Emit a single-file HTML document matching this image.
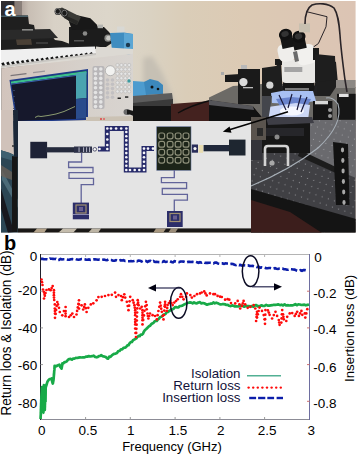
<!DOCTYPE html>
<html><head><meta charset="utf-8"><style>
html,body{margin:0;padding:0;background:#fff;width:358px;height:456px;overflow:hidden}
svg{display:block}
</style></head><body>
<svg width="358" height="456" viewBox="0 0 358 456">
<rect width="358" height="456" fill="#fff"/>
<defs>
<clipPath id="pc"><rect x="1" y="1" width="354.6" height="231.4"/></clipPath>
<linearGradient id="wall" x1="0" y1="0" x2="358" y2="0" gradientUnits="userSpaceOnUse"><stop offset="0" stop-color="#7a7070"/><stop offset="0.05" stop-color="#a89a94"/><stop offset="0.08" stop-color="#c8beb4"/><stop offset="0.15" stop-color="#d8d1c6"/><stop offset="0.3" stop-color="#dcd6ca"/><stop offset="0.42" stop-color="#dad2c2"/><stop offset="0.52" stop-color="#dacdb8"/><stop offset="0.68" stop-color="#dccab4"/><stop offset="0.88" stop-color="#dcc6b4"/><stop offset="1" stop-color="#dcc4b4"/></linearGradient>
<linearGradient id="face" x1="0" y1="0" x2="133" y2="0" gradientUnits="userSpaceOnUse"><stop offset="0" stop-color="#d2c4bc"/><stop offset="0.6" stop-color="#d6d0ca"/><stop offset="1" stop-color="#d8d4d0"/></linearGradient>
<filter id="blur2" x="-20%" y="-20%" width="140%" height="140%"><feGaussianBlur stdDeviation="2.5"/></filter>
<linearGradient id="shadow" x1="0" y1="0" x2="1" y2="0"><stop offset="0" stop-color="#d2c8b8" stop-opacity="0"/><stop offset="0.5" stop-color="#b4ab9e"/><stop offset="1" stop-color="#cfc4b2" stop-opacity="0"/></linearGradient>
<radialGradient id="glow" cx="0.5" cy="0.5" r="0.5"><stop offset="0" stop-color="#f4f8ff"/><stop offset="0.45" stop-color="#a8b8f0" stop-opacity="0.9"/><stop offset="1" stop-color="#3a4890" stop-opacity="0"/></radialGradient>
<pattern id="holes" width="6.5" height="6.5" patternUnits="userSpaceOnUse" patternTransform="rotate(18)"><rect width="6.5" height="6.5" fill="#404044"/><circle cx="3.2" cy="3.2" r="0.6" fill="#8c8c90"/></pattern>
<pattern id="holes2" width="6.5" height="6.5" patternUnits="userSpaceOnUse" patternTransform="rotate(18)"><rect width="6.5" height="6.5" fill="#6a6a6e"/><circle cx="3.2" cy="3.2" r="0.6" fill="#9a9a9e"/></pattern>
</defs>
<g clip-path="url(#pc)">
<rect x="0" y="0" width="358" height="234" fill="url(#wall)"/>
<polygon points="143,58 152,56 162,72 172,95 178,112 150,112 143,90" fill="#c6c0b4" filter="url(#blur2)"/>
<rect x="0" y="0" width="15" height="17" fill="#2e2c30"/>
<rect x="14" y="0" width="8" height="17" fill="#7a706c" opacity="0.7"/>
<polygon points="0,15.5 28,15.5 29,24 34,25 35,30 42,31 44,35 52,36 55,40 62,41 70,44 78,46 96,46 96,49 60,48 0,51" fill="#1f1f1f"/>
<rect x="0" y="15.5" width="28" height="1.5" fill="#4a6068"/>
<polygon points="0,30 50,29 58,38 0,40" fill="#2a2a2a"/>
<polygon points="16,39.5 31,39 32,44.7 17,45" fill="#4a4036"/>
<rect x="22" y="29" width="11" height="1.6" fill="#8a8a88"/>
<rect x="36" y="42" width="12" height="2" fill="#3a3a3a"/>
<polygon points="69,27 104,27 109,32 112,36 112,43 106,47 69,47" fill="#1c1c1c"/>
<polygon points="70,16 75,14.7 90.4,18.3 96.7,24.6 99,29 72,30 69,22" fill="#181818"/>
<polygon points="56,10 62,7.5 81,17 77,25 70,22" fill="#3a3a36"/>
<polygon points="62,14 78,21 77,25 64,18" fill="#262624"/>
<ellipse cx="58" cy="11.5" rx="3.4" ry="3.6" fill="#1a1a1a"/><ellipse cx="57.8" cy="11.3" rx="2.6" ry="2.8" fill="none" stroke="#9a9a9a" stroke-width="0.8"/>
<ellipse cx="64.6" cy="13.3" rx="3.6" ry="3.8" fill="#1a1a1a"/><ellipse cx="64.4" cy="13.1" rx="2.7" ry="2.9" fill="none" stroke="#8a8a8a" stroke-width="0.8"/>
<rect x="97.6" y="24.6" width="5.4" height="3.6" fill="#b4b4b0"/>
<circle cx="85" cy="33.5" r="2.3" fill="#8a8a88"/>
<ellipse cx="108" cy="38.2" rx="3.6" ry="3.6" fill="#8a8a86"/><ellipse cx="108.4" cy="38.2" rx="2.2" ry="2.4" fill="#c8c8c4"/>
<rect x="74" y="40" width="10" height="1.5" fill="#555"/>
<rect x="117" y="26.5" width="7.5" height="7" fill="#d8d8d4"/>
<polygon points="110,33 124,32.5 133,34 133,56 112,50" fill="#3f8dc0"/>
<polygon points="124,33 133,34 133,56 124,52" fill="#5ba6d4"/>
<circle cx="128" cy="45" r="2.2" fill="#1d3a50"/>
<polygon points="0,50 60,47.5 95,46.5 96,53.5 2,67 0,67" fill="#efefef"/>
<rect x="2.0" y="62.5" width="2.6" height="4.2" fill="#141414" transform="rotate(-25 3.3 64.5)"/>
<rect x="6.9" y="61.9" width="2.6" height="4.2" fill="#141414" transform="rotate(-25 8.2 63.9)"/>
<rect x="11.8" y="61.4" width="2.6" height="4.2" fill="#141414" transform="rotate(-25 13.1 63.4)"/>
<rect x="16.7" y="60.8" width="2.6" height="4.2" fill="#141414" transform="rotate(-25 18.0 62.8)"/>
<rect x="21.6" y="60.3" width="2.6" height="4.2" fill="#141414" transform="rotate(-25 22.9 62.3)"/>
<rect x="26.5" y="59.7" width="2.6" height="4.2" fill="#141414" transform="rotate(-25 27.8 61.7)"/>
<rect x="31.4" y="59.1" width="2.6" height="4.2" fill="#141414" transform="rotate(-25 32.7 61.1)"/>
<rect x="36.3" y="58.6" width="2.6" height="4.2" fill="#141414" transform="rotate(-25 37.6 60.6)"/>
<rect x="41.2" y="58.0" width="2.6" height="4.2" fill="#141414" transform="rotate(-25 42.5 60.0)"/>
<rect x="46.1" y="57.4" width="2.6" height="4.2" fill="#141414" transform="rotate(-25 47.4 59.4)"/>
<rect x="51.0" y="56.9" width="2.6" height="4.2" fill="#141414" transform="rotate(-25 52.3 58.9)"/>
<rect x="55.9" y="56.3" width="2.6" height="4.2" fill="#141414" transform="rotate(-25 57.2 58.3)"/>
<rect x="60.8" y="55.8" width="2.6" height="4.2" fill="#141414" transform="rotate(-25 62.1 57.8)"/>
<rect x="65.7" y="55.2" width="2.6" height="4.2" fill="#141414" transform="rotate(-25 67.0 57.2)"/>
<rect x="70.6" y="54.6" width="2.6" height="4.2" fill="#141414" transform="rotate(-25 71.9 56.6)"/>
<rect x="75.5" y="54.1" width="2.6" height="4.2" fill="#141414" transform="rotate(-25 76.8 56.1)"/>
<rect x="80.4" y="53.5" width="2.6" height="4.2" fill="#141414" transform="rotate(-25 81.7 55.5)"/>
<rect x="85.3" y="52.9" width="2.6" height="4.2" fill="#141414" transform="rotate(-25 86.6 54.9)"/>
<rect x="90.2" y="52.4" width="2.6" height="4.2" fill="#141414" transform="rotate(-25 91.5 54.4)"/>
<polygon points="0,67 96,53.5 96,46.5 100,47 133,49 133,54 70,60.7 0,68.5" fill="#dcd9d3"/>
<polygon points="0,66 96,53 96,55 0,68" fill="#c8c6c2"/>
<polygon points="0,68.5 70,60.7 133,53.7 133,117 0,121" fill="url(#face)"/>
<polygon points="0,68.5 2,68.3 2,150 0,150" fill="#b8b0aa"/>
<rect x="10.5" y="75" width="16" height="1.2" fill="#7a7478" transform="rotate(-7 10.5 75)"/>
<rect x="33" y="72" width="12" height="1.2" fill="#9a969a" transform="rotate(-7 33 72)"/>
<polygon points="9.5,80 88,69 88,120 16,122" fill="#1e3a8a"/>
<polygon points="11,81.5 86.5,71 86.5,118.5 17.5,121" fill="#16182c"/>
<polygon points="11,81.5 86.5,71 86.5,73.4 11,83.8" fill="#3cc08e"/><polygon points="11,83.8 86.5,73.4 86.5,74.4 11,84.8" fill="#3a62b0"/>
<polygon points="76,73.5 86.5,72 86.5,98 76,99" fill="#4aa4b0"/>
<polygon points="76,99 86.5,98 86.5,118.5 76,119" fill="#2a4c8c"/>
<polyline points="35,117.5 38,116 41,116.5 48,115.5 56,114 64,111.5 75,106.5" fill="none" stroke="#8c9c70" stroke-width="1"/>
<rect x="13" y="90" width="2" height="0.8" fill="#3a4a6a"/>
<rect x="13" y="96" width="2" height="0.8" fill="#3a4a6a"/>
<rect x="13" y="102" width="2" height="0.8" fill="#3a4a6a"/>
<rect x="13" y="108" width="2" height="0.8" fill="#3a4a6a"/>
<rect x="13" y="114" width="2" height="0.8" fill="#3a4a6a"/>
<rect x="92.5" y="66" width="12" height="43" rx="2" fill="#b8b6b8"/>
<circle cx="95.5" cy="69.0" r="1.8" fill="#e4e4e4"/>
<circle cx="100.8" cy="69.0" r="1.8" fill="#e4e4e4"/>
<circle cx="95.5" cy="73.7" r="1.8" fill="#e4e4e4"/>
<circle cx="100.8" cy="73.7" r="1.8" fill="#e4e4e4"/>
<circle cx="95.5" cy="78.4" r="1.8" fill="#e4e4e4"/>
<circle cx="100.8" cy="78.4" r="1.8" fill="#e4e4e4"/>
<circle cx="95.5" cy="83.1" r="1.8" fill="#e4e4e4"/>
<circle cx="100.8" cy="83.1" r="1.8" fill="#e4e4e4"/>
<circle cx="95.5" cy="87.8" r="1.8" fill="#e4e4e4"/>
<circle cx="100.8" cy="87.8" r="1.8" fill="#e4e4e4"/>
<circle cx="95.5" cy="92.5" r="1.8" fill="#e4e4e4"/>
<circle cx="100.8" cy="92.5" r="1.8" fill="#e4e4e4"/>
<circle cx="95.5" cy="97.2" r="1.8" fill="#e4e4e4"/>
<circle cx="100.8" cy="97.2" r="1.8" fill="#e4e4e4"/>
<circle cx="95.5" cy="101.9" r="1.8" fill="#e4e4e4"/>
<circle cx="100.8" cy="101.9" r="1.8" fill="#e4e4e4"/>
<circle cx="95.5" cy="106.6" r="1.8" fill="#e4e4e4"/>
<circle cx="100.8" cy="106.6" r="1.8" fill="#e4e4e4"/>
<circle cx="107.5" cy="80.0" r="1.8" fill="#c2c0c2"/>
<circle cx="112.5" cy="80.0" r="1.8" fill="#c2c0c2"/>
<circle cx="107.5" cy="84.3" r="1.8" fill="#c2c0c2"/>
<circle cx="112.5" cy="84.3" r="1.8" fill="#c2c0c2"/>
<circle cx="107.5" cy="88.6" r="1.8" fill="#c2c0c2"/>
<circle cx="112.5" cy="88.6" r="1.8" fill="#c2c0c2"/>
<circle cx="107.5" cy="92.9" r="1.8" fill="#c2c0c2"/>
<circle cx="112.5" cy="92.9" r="1.8" fill="#c2c0c2"/>
<circle cx="107.5" cy="97.2" r="1.8" fill="#c2c0c2"/>
<circle cx="112.5" cy="97.2" r="1.8" fill="#c2c0c2"/>
<circle cx="117.5" cy="65.0" r="1.6" fill="#e6e6e6" stroke="#b0b0b0" stroke-width="0.5"/>
<circle cx="121.4" cy="65.0" r="1.6" fill="#e6e6e6" stroke="#b0b0b0" stroke-width="0.5"/>
<circle cx="125.3" cy="65.0" r="1.6" fill="#e6e6e6" stroke="#b0b0b0" stroke-width="0.5"/>
<circle cx="129.2" cy="65.0" r="1.6" fill="#e6e6e6" stroke="#b0b0b0" stroke-width="0.5"/>
<circle cx="117.5" cy="69.4" r="1.6" fill="#e6e6e6" stroke="#b0b0b0" stroke-width="0.5"/>
<circle cx="121.4" cy="69.4" r="1.6" fill="#e6e6e6" stroke="#b0b0b0" stroke-width="0.5"/>
<circle cx="125.3" cy="69.4" r="1.6" fill="#e6e6e6" stroke="#b0b0b0" stroke-width="0.5"/>
<circle cx="129.2" cy="69.4" r="1.6" fill="#e6e6e6" stroke="#b0b0b0" stroke-width="0.5"/>
<circle cx="117.5" cy="73.8" r="1.6" fill="#e6e6e6" stroke="#b0b0b0" stroke-width="0.5"/>
<circle cx="121.4" cy="73.8" r="1.6" fill="#e6e6e6" stroke="#b0b0b0" stroke-width="0.5"/>
<circle cx="125.3" cy="73.8" r="1.6" fill="#e6e6e6" stroke="#b0b0b0" stroke-width="0.5"/>
<circle cx="129.2" cy="73.8" r="1.6" fill="#e6e6e6" stroke="#b0b0b0" stroke-width="0.5"/>
<circle cx="117.5" cy="78.2" r="1.6" fill="#e6e6e6" stroke="#b0b0b0" stroke-width="0.5"/>
<circle cx="121.4" cy="78.2" r="1.6" fill="#e6e6e6" stroke="#b0b0b0" stroke-width="0.5"/>
<circle cx="125.3" cy="78.2" r="1.6" fill="#e6e6e6" stroke="#b0b0b0" stroke-width="0.5"/>
<circle cx="129.2" cy="78.2" r="1.6" fill="#e6e6e6" stroke="#b0b0b0" stroke-width="0.5"/>
<circle cx="117.5" cy="82.6" r="1.6" fill="#e6e6e6" stroke="#b0b0b0" stroke-width="0.5"/>
<circle cx="121.4" cy="82.6" r="1.6" fill="#e6e6e6" stroke="#b0b0b0" stroke-width="0.5"/>
<circle cx="125.3" cy="82.6" r="1.6" fill="#e6e6e6" stroke="#b0b0b0" stroke-width="0.5"/>
<circle cx="129.2" cy="82.6" r="1.6" fill="#e6e6e6" stroke="#b0b0b0" stroke-width="0.5"/>
<circle cx="117.5" cy="87.0" r="1.6" fill="#e6e6e6" stroke="#b0b0b0" stroke-width="0.5"/>
<circle cx="121.4" cy="87.0" r="1.6" fill="#e6e6e6" stroke="#b0b0b0" stroke-width="0.5"/>
<circle cx="125.3" cy="87.0" r="1.6" fill="#e6e6e6" stroke="#b0b0b0" stroke-width="0.5"/>
<circle cx="129.2" cy="87.0" r="1.6" fill="#e6e6e6" stroke="#b0b0b0" stroke-width="0.5"/>
<circle cx="117.5" cy="91.4" r="1.6" fill="#e6e6e6" stroke="#b0b0b0" stroke-width="0.5"/>
<circle cx="121.4" cy="91.4" r="1.6" fill="#e6e6e6" stroke="#b0b0b0" stroke-width="0.5"/>
<circle cx="125.3" cy="91.4" r="1.6" fill="#e6e6e6" stroke="#b0b0b0" stroke-width="0.5"/>
<circle cx="129.2" cy="91.4" r="1.6" fill="#e6e6e6" stroke="#b0b0b0" stroke-width="0.5"/>
<circle cx="129" cy="81" r="1.7" fill="#3a9aa0"/>
<circle cx="110.3" cy="70.7" r="5" fill="#f2f2f0" stroke="#a0a0a0" stroke-width="0.7"/>
<rect x="117.6" y="97.5" width="3.3" height="1.5" fill="#222"/><rect x="125" y="96.3" width="3.3" height="1.5" fill="#222"/>
<polygon points="86,117 133,116 133,122 86,122" fill="#cbc2b4"/>
<circle cx="101" cy="119" r="1" fill="#e04040"/><circle cx="104" cy="119" r="1" fill="#e06060"/>
<ellipse cx="127" cy="112" rx="3.5" ry="3" fill="#6a6a6a"/>
<path d="M127,112 C132,112 136,114 141,118" stroke="#181818" stroke-width="4.5" fill="none"/>
<polygon points="133,81 147,82 147,96.5 133,97" fill="#4d9ccf"/>
<polygon points="144,82 150,79 158,81 163,85 163,94 146,95" fill="#3c88bc"/>
<circle cx="152" cy="87" r="1.5" fill="#111"/><circle cx="158" cy="89" r="1.3" fill="#111"/>
<polygon points="133,96 172,93 173,100 133,106" fill="#5c5c5c"/>
<polygon points="133,103 173,99 173,107 133,108" fill="#3a3a3a"/>
<rect x="133" y="106" width="40" height="16" fill="#141414"/>
<polygon points="171,104 211,101 211,122 171,122" fill="#44221f"/>
<path d="M178,113 C190,106 200,103 212,100" fill="none" stroke="#0e0e0e" stroke-width="1.3"/>
<polygon points="209,97.5 233,86 262,84 300,84 336,86 356,87 356,121 300,121 262,117 253,106 209,100" fill="#6c6a66"/>
<polygon points="209,100 253,106 262,117 262,122 209,122" fill="#121212"/>
<polygon points="209,100 253,106 254,110 209,105" fill="#56565a"/>
<polygon points="225,75 240,74 240,82 225,82" fill="#1a1a1a"/>
<rect x="221" y="72" width="3" height="3" fill="#aaa"/>
<rect x="238" y="69" width="22" height="35" fill="#1a1a1a"/>
<rect x="241" y="65" width="6" height="4" fill="#b8b8b8"/>
<circle cx="243.4" cy="82.1" r="4.2" fill="#dadada"/>
<rect x="243" y="87" width="10" height="1.3" fill="#bbb"/>
<polygon points="262,68 276,66 281,62 283,96 262,96" fill="#1e1e1e"/>
<circle cx="269.8" cy="85.2" r="3.6" fill="#d4d4d4"/>
<polygon points="315,58 326,58 336,62 338,84 330,96 315,96" fill="#1e1e1e"/>
<rect x="322" y="72" width="10" height="3" fill="#555"/>
<rect x="336" y="80" width="20" height="8" fill="#8c8884"/>
<rect x="281" y="86" width="36" height="10" fill="#202022"/>
<polygon points="271,93 292,89 313,91 316,101 292,104 272,103" fill="#a8c0f2"/>
<polygon points="276,99 292,97 311,99 307,107 281,108" fill="#6a84cc"/>
<polygon points="268,107 296,103 310,105 308,120 266,121" fill="#cdd8f6"/>
<ellipse cx="292" cy="111" rx="12" ry="4.5" fill="#f6f8ff"/>
<path d="M279,95 L286,110 M292,94 L288,108 M301,95 L297,110 M307,97 L301,112" stroke="#1a1a3a" stroke-width="1.2"/>
<polygon points="262,96 272,96 268,122 262,122" fill="#44464c"/>
<rect x="337" y="93.8" width="19" height="26" fill="#161616"/>
<rect x="339" y="93.8" width="9.6" height="3.2" fill="#e2e2e2"/>
<rect x="313" y="101" width="19.4" height="19.5" fill="#151515"/>
<rect x="315" y="101" width="13" height="3.3" fill="#d8d8d8"/>
<circle cx="330" cy="110" r="2" fill="#9a9a9a"/><circle cx="330" cy="116" r="2" fill="#9a9a9a"/>
<rect x="283" y="80" width="31.5" height="11" rx="3" fill="#161616"/>
<rect x="285" y="88" width="24" height="2.5" fill="#7a7a7a"/>
<rect x="282" y="60" width="34.7" height="23" rx="4" fill="#e8e7e4"/>
<rect x="284.3" y="67" width="18" height="5" fill="#a4a4a4"/>
<rect x="275" y="59" width="7" height="6" fill="#1a1a1a"/>
<rect x="278" y="43.5" width="17.5" height="18" rx="6" transform="rotate(-12 286.7 52.5)" fill="#efeeeb"/>
<rect x="296" y="44.6" width="19.6" height="20" rx="6" transform="rotate(-12 305.8 54.6)" fill="#f2f1ee"/>
<polygon points="293,52 297,51 299,61 295,62" fill="#6a6a6a"/>
<rect x="281" y="34" width="12" height="14" transform="rotate(-12 287 41)" fill="#151515"/>
<rect x="293" y="36.8" width="12.6" height="12.5" transform="rotate(-12 299.3 43)" fill="#151515"/>
<ellipse cx="285.5" cy="34.5" rx="6.7" ry="5.6" transform="rotate(-15 285.5 34.5)" fill="#111"/>
<ellipse cx="298.9" cy="36.8" rx="6.7" ry="6" transform="rotate(-15 298.9 36.8)" fill="#111"/>
<ellipse cx="285" cy="34" rx="3.8" ry="2.8" transform="rotate(-15 285 34)" fill="#333"/>
<ellipse cx="298.5" cy="36.3" rx="3.8" ry="3" transform="rotate(-15 298.5 36.3)" fill="#333"/>
<rect x="299" y="23.4" width="11" height="9" fill="#c8c0b0"/>
<rect x="313" y="48" width="6" height="12" fill="#1a1a1a"/>
<polygon points="315,54 335,56 336,80 315,82" fill="#1e1e1e"/>
<path d="M305,24 C305,14 307,8 312,5 C318,3 328,3 334,8 C338,14 339,22 340,35 C341,50 343,65 345,80 L347,92" fill="none" stroke="#2a2428" stroke-width="1.6"/>
<path d="M306.7,11.7 L327,16.7 L326,26.8 L318.4,43.5 L313.5,47" fill="none" stroke="#2a2428" stroke-width="1"/>
<polygon points="251,120 356,120 356,233 251,233" fill="url(#holes)"/>
<polygon points="296,120 356,120 356,178 332,168 296,152" fill="url(#holes2)"/>
<polygon points="300,150 338,168 338,174 298,156" fill="#1c1c1c"/>
<rect x="262" y="117" width="48" height="36" fill="#161616"/>
<polygon points="266,117 312,117 314,123 268,125" fill="#3e3e46"/>
<rect x="266" y="128" width="38" height="8" fill="#26262a"/>
<circle cx="277" cy="137" r="2.5" fill="#8a8a8a"/>
<path d="M265,166 L265,149 Q265,146 268,146 L285,146 Q288,146 288,149 L288,166" fill="none" stroke="#d4d4d4" stroke-width="2.6"/>
<circle cx="272" cy="163" r="2.6" fill="#a8a8a8"/>
<rect x="251" y="120" width="11" height="40" fill="#34343a"/>
<polygon points="251,117 266,117 266,140 251,140" fill="#5a544e"/>
<rect x="257" y="128" width="6" height="8" fill="#2a2a2a"/>
<polygon points="333,142 348,144 349.5,205 336,205" fill="#121212"/>
<ellipse cx="342.5" cy="150.0" rx="1.6" ry="2.4" fill="#a8a8a8"/>
<ellipse cx="342.8" cy="160.5" rx="1.6" ry="2.4" fill="#a8a8a8"/>
<ellipse cx="343.1" cy="171.0" rx="1.6" ry="2.4" fill="#a8a8a8"/>
<ellipse cx="343.4" cy="181.5" rx="1.6" ry="2.4" fill="#a8a8a8"/>
<ellipse cx="343.7" cy="192.0" rx="1.6" ry="2.4" fill="#a8a8a8"/>
<ellipse cx="344.0" cy="202.5" rx="1.6" ry="2.4" fill="#a8a8a8"/>
<polygon points="251,189 356,219 356,233 251,233" fill="#141414"/>
<polygon points="251,200 290,212 322,233 251,233" fill="#3c1e1c"/>
<path d="M251,186 C275,176 300,162 318,148 C333,134 342,118 338,104 C335,99 330,97 326,98" fill="none" stroke="#a6aeb6" stroke-width="1.1"/>
<rect x="0" y="121" width="18" height="113" fill="#2c4654"/>
<polygon points="0,110 13,110 14,155 10,153 0,150" fill="#d0c2ba"/>
<polygon points="13,110 18,110 18,158 14,156" fill="#1c2838"/>
<polygon points="0,150 10,153 14,155 14,161 0,157" fill="#3e6070"/>
<polygon points="2,170 18,200 18,208 2,180" fill="#5a7a88" opacity="0.7"/>
<polygon points="0,185 14,232 8,233 0,205" fill="#18181e"/>
<circle cx="13" cy="146" r="1" fill="#333"/>
<polygon points="12,156 17.5,157 17.5,232 12,232" fill="#161616"/>
<polygon points="1,165 12,172 12,180 1,176" fill="#6a6058" opacity="0.8"/>
<rect x="18" y="228" width="233" height="6" fill="#1a1816"/>
<polygon points="33,233 37,228.4 47,228.4 44,233" fill="#b4a48c"/>
<polygon points="58,233 63,228.4 77,228.4 73,233" fill="#c4bcac"/>
<polygon points="88,233 92,228.4 101,228.4 98,233" fill="#bcb4a4"/>
<polygon points="153,233 156,228.4 166,228.4 163,233" fill="#a89880"/>
<polygon points="168,233 171,228.4 178,228.4 175,233" fill="#9a8c78"/>
<rect x="18" y="121" width="233" height="107.4" fill="#e4e4e4"/>
</g>
<rect x="30.3" y="141.8" width="16.8" height="16.5" fill="#1e2236"/>
<rect x="46" y="147.2" width="28.3" height="5.2" fill="#252a3c"/>
<rect x="74" y="146.5" width="18" height="6.3" fill="#2c3048"/>
<rect x="78.5" y="147.3" width="1.1" height="4.8" fill="#a8aabb"/>
<rect x="83" y="147.3" width="1.1" height="4.8" fill="#a8aabb"/>
<rect x="86" y="147.3" width="1.1" height="4.8" fill="#a8aabb"/>
<rect x="89" y="147.3" width="1.1" height="4.8" fill="#a8aabb"/>
<circle cx="94.8" cy="149.3" r="1.8" fill="#f4f4f4" stroke="#3a3a5a" stroke-width="0.8"/>
<polyline points="81.6,153 81.6,162 68.6,162 68.6,167.5 93,167.5 93,172.6 69,172.6 69,178.4 93.5,178.4 93.5,184.7 81.2,184.7 81.2,204" fill="none" stroke="#62649a" stroke-width="1.3"/>
<rect x="72.8" y="202.6" width="16.2" height="16.7" fill="#2c2e6a"/>
<rect x="76" y="205" width="10" height="8" fill="none" stroke="#a09070" stroke-width="1.2"/>
<rect x="79" y="207" width="4" height="4" fill="#6a6090"/>
<rect x="73" y="214" width="16" height="1" fill="#8a8ab0"/>
<polyline points="98,149 107.3,149 107.3,128.5 126.3,128.5 126.3,170 144,170 144,148.6 154,148.6" fill="none" stroke="#262a6a" stroke-width="5" stroke-linejoin="miter"/>
<circle cx="99.5" cy="149.0" r="1.3" fill="#f6f6fa"/>
<circle cx="107.3" cy="149.0" r="1.3" fill="#f6f6fa"/>
<circle cx="107.3" cy="145.0" r="1.3" fill="#f6f6fa"/>
<circle cx="107.3" cy="139.5" r="1.3" fill="#f6f6fa"/>
<circle cx="107.3" cy="134.0" r="1.3" fill="#f6f6fa"/>
<circle cx="107.3" cy="128.5" r="1.3" fill="#f6f6fa"/>
<circle cx="111.0" cy="128.5" r="1.3" fill="#f6f6fa"/>
<circle cx="116.1" cy="128.5" r="1.3" fill="#f6f6fa"/>
<circle cx="121.2" cy="128.5" r="1.3" fill="#f6f6fa"/>
<circle cx="126.3" cy="128.5" r="1.3" fill="#f6f6fa"/>
<circle cx="126.3" cy="132.0" r="1.3" fill="#f6f6fa"/>
<circle cx="126.3" cy="136.2" r="1.3" fill="#f6f6fa"/>
<circle cx="126.3" cy="140.4" r="1.3" fill="#f6f6fa"/>
<circle cx="126.3" cy="144.7" r="1.3" fill="#f6f6fa"/>
<circle cx="126.3" cy="148.9" r="1.3" fill="#f6f6fa"/>
<circle cx="126.3" cy="153.1" r="1.3" fill="#f6f6fa"/>
<circle cx="126.3" cy="157.3" r="1.3" fill="#f6f6fa"/>
<circle cx="126.3" cy="161.6" r="1.3" fill="#f6f6fa"/>
<circle cx="126.3" cy="165.8" r="1.3" fill="#f6f6fa"/>
<circle cx="126.3" cy="170.0" r="1.3" fill="#f6f6fa"/>
<circle cx="130.0" cy="170.0" r="1.3" fill="#f6f6fa"/>
<circle cx="134.7" cy="170.0" r="1.3" fill="#f6f6fa"/>
<circle cx="139.3" cy="170.0" r="1.3" fill="#f6f6fa"/>
<circle cx="144.0" cy="170.0" r="1.3" fill="#f6f6fa"/>
<circle cx="144.0" cy="166.0" r="1.3" fill="#f6f6fa"/>
<circle cx="144.0" cy="161.7" r="1.3" fill="#f6f6fa"/>
<circle cx="144.0" cy="157.3" r="1.3" fill="#f6f6fa"/>
<circle cx="144.0" cy="152.9" r="1.3" fill="#f6f6fa"/>
<circle cx="144.0" cy="148.6" r="1.3" fill="#f6f6fa"/>
<circle cx="148.0" cy="148.6" r="1.3" fill="#f6f6fa"/>
<circle cx="153.0" cy="148.6" r="1.3" fill="#f6f6fa"/>
<rect x="156.7" y="126.7" width="34.3" height="43.6" fill="#1c2418" stroke="#6a7aa0" stroke-width="0.6"/>
<rect x="158.8" y="133.0" width="5.8" height="5.8" rx="2" fill="none" stroke="#8e907a" stroke-width="1.2"/>
<rect x="158.8" y="141.4" width="5.8" height="5.8" rx="2" fill="none" stroke="#8e907a" stroke-width="1.2"/>
<rect x="158.8" y="149.3" width="5.8" height="5.8" rx="2" fill="none" stroke="#8e907a" stroke-width="1.2"/>
<rect x="158.8" y="157.3" width="5.8" height="5.8" rx="2" fill="none" stroke="#8e907a" stroke-width="1.2"/>
<rect x="167.2" y="133.0" width="5.8" height="5.8" rx="2" fill="none" stroke="#8e907a" stroke-width="1.2"/>
<rect x="167.2" y="141.4" width="5.8" height="5.8" rx="2" fill="none" stroke="#8e907a" stroke-width="1.2"/>
<rect x="167.2" y="149.3" width="5.8" height="5.8" rx="2" fill="none" stroke="#8e907a" stroke-width="1.2"/>
<rect x="167.2" y="157.3" width="5.8" height="5.8" rx="2" fill="none" stroke="#8e907a" stroke-width="1.2"/>
<rect x="175.2" y="133.0" width="5.8" height="5.8" rx="2" fill="none" stroke="#8e907a" stroke-width="1.2"/>
<rect x="175.2" y="141.4" width="5.8" height="5.8" rx="2" fill="none" stroke="#8e907a" stroke-width="1.2"/>
<rect x="175.2" y="149.3" width="5.8" height="5.8" rx="2" fill="none" stroke="#8e907a" stroke-width="1.2"/>
<rect x="175.2" y="157.3" width="5.8" height="5.8" rx="2" fill="none" stroke="#8e907a" stroke-width="1.2"/>
<rect x="183.1" y="133.0" width="5.8" height="5.8" rx="2" fill="none" stroke="#8e907a" stroke-width="1.2"/>
<rect x="183.1" y="141.4" width="5.8" height="5.8" rx="2" fill="none" stroke="#8e907a" stroke-width="1.2"/>
<rect x="183.1" y="149.3" width="5.8" height="5.8" rx="2" fill="none" stroke="#8e907a" stroke-width="1.2"/>
<rect x="183.1" y="157.3" width="5.8" height="5.8" rx="2" fill="none" stroke="#8e907a" stroke-width="1.2"/>
<rect x="191.8" y="144.5" width="6.2" height="8.2" fill="#2a2e5a"/>
<circle cx="195" cy="148.6" r="1.6" fill="#f4f4f4"/>
<rect x="198.5" y="145" width="4.6" height="7.8" fill="#e8dcb0"/>
<rect x="203.6" y="145" width="26" height="6.3" fill="#20283a"/>
<rect x="229" y="139.6" width="16.5" height="15.9" fill="#1e2630"/>
<polyline points="174.3,170 174.3,177.6 161.4,177.6 161.4,182.6 186.6,182.6 186.6,188.5 162.3,188.5 162.3,194.3 187.4,194.3 187.4,200.2 174.3,200.2 174.3,212" fill="none" stroke="#62649a" stroke-width="1.3"/>
<rect x="167" y="211" width="15.7" height="16" fill="#2c2e6a"/>
<rect x="170" y="213.5" width="10" height="8" fill="none" stroke="#a09070" stroke-width="1.2"/>
<rect x="173" y="215.5" width="4" height="4" fill="#6a6090"/>
<line x1="288" y1="111.8" x2="227" y2="130.6" stroke="#050505" stroke-width="1.6"/>
<polygon points="222.8,131.8 229.5,126.5 231.5,132.8" fill="#050505"/>
<text x="4.4" y="15.6" font-family="Liberation Sans, sans-serif" font-size="20" font-weight="bold" fill="#ffffff">a</text>
<line x1="40.5" y1="254.5" x2="309.5" y2="254.5" stroke="#b4b4b4" stroke-width="1"/>
<line x1="40.5" y1="419.5" x2="309.5" y2="419.5" stroke="#8c8c96" stroke-width="1"/>
<line x1="40.5" y1="254" x2="40.5" y2="420" stroke="#20202c" stroke-width="1"/>
<line x1="309.5" y1="254" x2="309.5" y2="420" stroke="#6e6ea0" stroke-width="1"/>
<line x1="85.6" y1="419.5" x2="85.6" y2="417" stroke="#9a9a9a" stroke-width="1"/>
<line x1="85.6" y1="254.5" x2="85.6" y2="257" stroke="#b4b4b4" stroke-width="1"/>
<line x1="130.3" y1="419.5" x2="130.3" y2="417" stroke="#9a9a9a" stroke-width="1"/>
<line x1="130.3" y1="254.5" x2="130.3" y2="257" stroke="#b4b4b4" stroke-width="1"/>
<line x1="175.1" y1="419.5" x2="175.1" y2="417" stroke="#9a9a9a" stroke-width="1"/>
<line x1="175.1" y1="254.5" x2="175.1" y2="257" stroke="#b4b4b4" stroke-width="1"/>
<line x1="219.9" y1="419.5" x2="219.9" y2="417" stroke="#9a9a9a" stroke-width="1"/>
<line x1="219.9" y1="254.5" x2="219.9" y2="257" stroke="#b4b4b4" stroke-width="1"/>
<line x1="264.6" y1="419.5" x2="264.6" y2="417" stroke="#9a9a9a" stroke-width="1"/>
<line x1="264.6" y1="254.5" x2="264.6" y2="257" stroke="#b4b4b4" stroke-width="1"/>
<line x1="40.5" y1="291.2" x2="43" y2="291.2" stroke="#9a9a9a" stroke-width="1"/>
<line x1="307" y1="291.2" x2="309.5" y2="291.2" stroke="#d07070" stroke-width="1"/>
<line x1="40.5" y1="327.9" x2="43" y2="327.9" stroke="#9a9a9a" stroke-width="1"/>
<line x1="307" y1="327.9" x2="309.5" y2="327.9" stroke="#d07070" stroke-width="1"/>
<line x1="40.5" y1="364.6" x2="43" y2="364.6" stroke="#9a9a9a" stroke-width="1"/>
<line x1="307" y1="364.6" x2="309.5" y2="364.6" stroke="#d07070" stroke-width="1"/>
<line x1="40.5" y1="401.3" x2="43" y2="401.3" stroke="#9a9a9a" stroke-width="1"/>
<line x1="307" y1="401.3" x2="309.5" y2="401.3" stroke="#d07070" stroke-width="1"/>
<polyline points="40.6,419 40.6,417.4 40.7,415.9 40.8,414.3 40.8,412.8 40.9,411.2 40.9,409.6 41,408.1 41,406.5 41.1,405.1 41.1,403.6 41.2,402.2 41.2,400.8 41.3,399.3 41.4,397.9 41.4,396.4 41.5,395 41.6,393.7 41.7,392.3 41.8,391 41.8,389.7 41.9,388.3 42,387 42,388.5 42.1,390 42.1,391.5 42.2,393 42.2,394.5 42.2,396 42.3,397.5 42.3,399 42.4,400.5 42.4,402 42.5,403.5 42.5,405 42.6,406.4 42.7,407.8 42.8,409.2 42.9,410.6 43,412 43,410.5 43.1,408.9 43.1,407.4 43.2,405.8 43.2,404.3 43.3,402.7 43.3,401.2 43.4,399.6 43.4,398.1 43.5,396.5 43.5,395 43.6,393.6 43.6,392.1 43.7,390.7 43.7,389.3 43.8,387.9 43.8,386.4 43.9,385 43.9,386.5 44,388 44,389.5 44.1,391 44.1,392.5 44.1,394 44.2,395.5 44.2,397 44.3,398.5 44.3,400 44.4,401.4 44.4,402.9 44.5,404.3 44.6,405.7 44.7,407.1 44.7,408.6 44.8,410 44.8,408.5 44.9,407 44.9,405.5 45,404 45,402.5 45.1,401 45.1,399.5 45.2,398 45.2,396.5 45.3,395 45.4,393.7 45.5,392.3 45.5,391 45.6,389.7 45.7,388.3 45.8,387 46.3,385.5 46.8,384 47.3,382.1 47.8,381.1 48.8,379.8 49.7,379.1 50.7,379.2 51.7,378.4 52,379.6 52.2,382 52.5,382.4 52.7,383.6 52.9,383.4 53.2,381.5 53.4,380.7 53.6,379 53.7,377.6 53.9,375.4 54,374.5 54.1,373.2 54.2,371.2 54.4,369.9 54.5,368.2 54.6,365.8 56.1,366.3 57.6,365.5 58.5,365.1 59.5,364.7 60.2,366.9 60.8,367.4 61.5,368.7 61.7,367.7 62,366.2 62.2,365.3 62.4,363.4 63.4,363.3 64.4,362.1 65.4,362.1 66.7,361.4 68,359.7 69.3,359.1 70.6,358.9 71.9,359.6 73.2,358.5 74.5,358.6 75.8,357.9 77.1,358 78.6,357.6 80,357.4 81.5,357.5 83,357.3 84.5,357.4 85.9,356.7 87.3,356.6 88.8,356.1 90.4,356.5 92,356.2 93.5,355.7 95.1,356.9 96.7,357.3 97.8,356.9 98.9,356.1 100,356 101.2,355.2 102.5,356.1 103.6,356.4 104.8,356.7 105.9,357.1 107,358.3 108,358.7 109.2,356.7 110.5,356.9 111.7,355.6 113,354.4 114.3,353.8 115.7,353.6 117,353 118.3,351 119.6,351 120.9,349.3 122.2,349.3 123.5,347.9 124.8,347.7 126.1,347 127.4,345.4 128.5,345.2 129.6,343.3 130.7,342.1 131.9,341.9 133,340.2 134.1,339.6 135.2,339 136.3,338.4 137.4,336.9 138.5,335.9 139.7,336.2 140.8,334.6 141.9,334.7 143,333.8 143.7,332 144.3,331 145,330 146,329.2 147,328.2 148,327.2 149,326.3 150,325.8 151.1,324.4 152.3,323.4 153.4,323 154.5,321.5 155.7,320.8 156.8,320.9 157.9,319.4 159,318.6 160.2,317 161.3,316.7 162.4,316.1 163.5,314.5 164.6,314.5 165.7,313.7 166.8,312.1 168,312 169.1,311 170.2,310.5 171.3,309.4 172.4,309.4 173.5,308.8 174.8,307.4 176,307 177.2,307.5 178.5,307.4 179.8,306 181.1,305.9 182.3,305.7 183.6,304.8 184.8,304.3 186.1,303.6 187.3,303 188.6,302.7 189.9,302.4 191.3,302.6 192.6,303.3 194,302.3 195.3,303.2 196.9,303.3 198.4,302.5 200,302.2 201.4,303.4 202.8,303 204.2,303.3 205.6,304 207,304.7 208.4,304.2 209.7,304 210.9,303.5 212.2,303.6 213.4,302.5 214.8,303.4 216.3,302.7 217.8,303.2 219.2,303.9 220.7,304.5 222.1,304.2 223.6,304.1 225,304.3 226.4,305 227.8,304.8 229.2,305.8 230.7,306.1 232.1,305.4 233.5,305.7 235,306.5 236.6,306.3 238.1,306.5 239.6,305.9 241.1,305.7 242.7,305.9 244.2,306.7 245.7,306 247.2,306.1 248.8,306.2 250.3,306.3 251.9,306.1 253.4,306.7 255,305.4 256.2,305.1 257.5,306.3 258.8,306.1 260,306.1 261.5,305.3 263.1,306 264.6,305.9 266.2,304.9 267.7,305.6 269.2,305.7 270.8,305.4 272.3,305.2 273.8,304.8 275.4,304.9 276.9,304.7 278.5,304.4 280,305.1 281.5,304.7 283.1,305.4 284.6,304.3 286.1,305.5 287.6,305.2 289.2,305.5 290.7,305.4 292.2,305.4 293.7,305 295.3,304.2 296.8,305.2 298.3,304.4 299.8,304.5 301.4,305 302.9,304.8 304.4,304.6 305.9,305.3 307.5,304.9 309,304.5" fill="none" stroke="#18aa48" stroke-width="2.7" stroke-linejoin="round"/>
<polyline points="40.8,398.8 41.1,415.3 41.5,404.9 41.9,413.1 42.2,401.5 42.6,397.3 42.9,406.4 43.3,414.1 43.6,396.6 44,413.4 44.3,403.4 44.7,400.9 45,401.3 45.4,384.2 45.7,397.2 46.1,402.1 46.4,385" fill="none" stroke="#18aa48" stroke-width="1.2"/>
<polyline points="41,258.9 42.5,258.9 44,259.3 45.5,259.2 47,259.3 48.5,259.7 50,258.7 51.5,258.8 53,258.9 54.5,259 56,258.9 57.5,260 59,259.9 60.5,259 62,259.5 63.5,259.3 65,259.3 66.5,259.3 68,259.7 69.5,259.6 71,259.3 72.5,259.1 74,259.3 75.5,259 77,259.6 78.5,259.8 80,259.4 81.5,259 83,259.1 84.5,259.3 86,259.6 87.5,259.8 89,259.4 90.5,259.9 92,259.6 93.5,259.4 95,259.3 96.5,259.5 98,259.8 99.5,259.6 101,259.9 102.5,259.7 104,259.5 105.5,259.9 107,260.2 108.5,259.5 110,260 111.5,260.1 113,260.7 114.5,260.8 116,260.2 117.5,260.9 119,260.8 120.5,260.2 122,260.5 123.5,260.2 125,261 126.5,260.9 128,261.2 129.5,261.2 131,261.1 132.5,261.2 134,261 135.5,260.5 137,261.2 138.5,260.5 140,260.7 141.5,261.5 143,260.7 144.5,260.8 146,260.9 147.5,261.9 149,261.1 150.5,260.9 152,261.9 153.5,261.1 155,262 156.5,261.8 158,262 159.5,262.1 161,261.7 162.5,262 164,261.1 165.5,262 167,261.7 168.5,261.9 170,261.2 171.5,262 173,262.3 174.5,261.2 176,261.5 177.5,261.9 179,262.2 180.5,261.5 182,261.5 183.5,261.6 185,262.1 186.5,262.3 188,261.9 189.5,261.9 191,262 192.5,261.9 194,262.1 195.5,261.7 197,262.2 198.5,262.8 200,262.2 201.5,262.7 203,262 204.5,262.7 206,262.9 207.5,262.9 209,262.7 210.5,262.8 212,263 213.5,263.4 215,262.6 216.5,262.6 218,263.5 219.5,263.8 221,263.4 222.5,263.4 224,263.9 225.5,263.3 227,263.5 228.5,263.5 230,264.1 231.5,263.9 233,264 234.5,264.7 236,265.1 237.5,264.5 239,265.1 240.5,264.9 242,265.6 243.5,265.5 245,265.2 246.5,265.3 248,265.2 249.5,265.9 251,266 252.5,265.9 254,266.3 255.5,266.5 257,267.2 258.5,266.6 260,267.8 261.5,267.4 263,267.7 264.5,267.6 266,268.1 267.5,268.2 269,268 270.5,268 272,268.4 273.5,268.6 275,268.2 276.5,268.7 278,269 279.5,268.5 281,268.4 282.5,268.5 284,269.2 285.5,269.3 287,269.8 288.5,269.8 290,269.2 291.5,269.3 293,269.5 294.5,269.6 296,270.3 297.5,270.7 299,270.9 300.5,270.2 302,270.8 303.5,270.1 305,270.1 306.5,270.4 308,269.6" fill="none" stroke="#0c1eaa" stroke-width="2.6" stroke-dasharray="6.5 2.5"/>
<circle cx="41.5" cy="279.5" r="1.35" fill="#ff0a0a"/>
<circle cx="42" cy="282.2" r="1.35" fill="#ff0a0a"/>
<circle cx="42.5" cy="285" r="1.35" fill="#ff0a0a"/>
<circle cx="43" cy="289.5" r="1.35" fill="#ff0a0a"/>
<circle cx="43.8" cy="291.8" r="1.35" fill="#ff0a0a"/>
<circle cx="44.5" cy="294" r="1.35" fill="#ff0a0a"/>
<circle cx="44" cy="298.5" r="1.35" fill="#ff0a0a"/>
<circle cx="44.8" cy="295.8" r="1.35" fill="#ff0a0a"/>
<circle cx="45.5" cy="293" r="1.35" fill="#ff0a0a"/>
<circle cx="46.5" cy="290" r="1.35" fill="#ff0a0a"/>
<circle cx="48.9" cy="289.4" r="1.35" fill="#ff0a0a"/>
<circle cx="50.6" cy="290.2" r="1.35" fill="#ff0a0a"/>
<circle cx="51.7" cy="288.1" r="1.35" fill="#ff0a0a"/>
<circle cx="52.7" cy="286" r="1.35" fill="#ff0a0a"/>
<circle cx="53.9" cy="290.2" r="1.35" fill="#ff0a0a"/>
<circle cx="53.9" cy="292.7" r="1.35" fill="#ff0a0a"/>
<circle cx="53.9" cy="295.2" r="1.35" fill="#ff0a0a"/>
<circle cx="54" cy="297.6" r="1.35" fill="#ff0a0a"/>
<circle cx="54.2" cy="300" r="1.35" fill="#ff0a0a"/>
<circle cx="54.8" cy="304.4" r="1.35" fill="#ff0a0a"/>
<circle cx="54.8" cy="308.6" r="1.35" fill="#ff0a0a"/>
<circle cx="54.9" cy="311.1" r="1.35" fill="#ff0a0a"/>
<circle cx="55" cy="313.6" r="1.35" fill="#ff0a0a"/>
<circle cx="55" cy="317.8" r="1.35" fill="#ff0a0a"/>
<circle cx="55.6" cy="313.9" r="1.35" fill="#ff0a0a"/>
<circle cx="56.1" cy="309.9" r="1.35" fill="#ff0a0a"/>
<circle cx="56.7" cy="305.9" r="1.35" fill="#ff0a0a"/>
<circle cx="57.3" cy="302" r="1.35" fill="#ff0a0a"/>
<circle cx="58" cy="304.4" r="1.35" fill="#ff0a0a"/>
<circle cx="59" cy="307.8" r="1.35" fill="#ff0a0a"/>
<circle cx="59.8" cy="312" r="1.35" fill="#ff0a0a"/>
<circle cx="62.3" cy="315.3" r="1.35" fill="#ff0a0a"/>
<circle cx="63.9" cy="311.1" r="1.35" fill="#ff0a0a"/>
<circle cx="65.6" cy="307" r="1.35" fill="#ff0a0a"/>
<circle cx="65.6" cy="311.1" r="1.35" fill="#ff0a0a"/>
<circle cx="65.6" cy="313.6" r="1.35" fill="#ff0a0a"/>
<circle cx="65.6" cy="316.2" r="1.35" fill="#ff0a0a"/>
<circle cx="69" cy="317" r="1.35" fill="#ff0a0a"/>
<circle cx="70.7" cy="315.3" r="1.35" fill="#ff0a0a"/>
<circle cx="72.3" cy="313.6" r="1.35" fill="#ff0a0a"/>
<circle cx="74" cy="317" r="1.35" fill="#ff0a0a"/>
<circle cx="76.5" cy="314.5" r="1.35" fill="#ff0a0a"/>
<circle cx="77.1" cy="310.9" r="1.35" fill="#ff0a0a"/>
<circle cx="77.8" cy="307.4" r="1.35" fill="#ff0a0a"/>
<circle cx="78.4" cy="303.9" r="1.35" fill="#ff0a0a"/>
<circle cx="79" cy="300.3" r="1.35" fill="#ff0a0a"/>
<circle cx="79" cy="304.4" r="1.35" fill="#ff0a0a"/>
<circle cx="79" cy="308.6" r="1.35" fill="#ff0a0a"/>
<circle cx="81.6" cy="305.3" r="1.35" fill="#ff0a0a"/>
<circle cx="83.2" cy="309.5" r="1.35" fill="#ff0a0a"/>
<circle cx="84.1" cy="306.9" r="1.35" fill="#ff0a0a"/>
<circle cx="84.9" cy="304.4" r="1.35" fill="#ff0a0a"/>
<circle cx="85.8" cy="308.2" r="1.35" fill="#ff0a0a"/>
<circle cx="86.6" cy="312" r="1.35" fill="#ff0a0a"/>
<circle cx="88.3" cy="307.8" r="1.35" fill="#ff0a0a"/>
<circle cx="90.8" cy="304.4" r="1.35" fill="#ff0a0a"/>
<circle cx="93.3" cy="303.3" r="1.35" fill="#ff0a0a"/>
<circle cx="96.6" cy="300.3" r="1.35" fill="#ff0a0a"/>
<circle cx="98.4" cy="297.1" r="1.35" fill="#ff0a0a"/>
<circle cx="101.7" cy="296.8" r="1.35" fill="#ff0a0a"/>
<circle cx="105" cy="296" r="1.35" fill="#ff0a0a"/>
<circle cx="108.4" cy="295.1" r="1.35" fill="#ff0a0a"/>
<circle cx="111.8" cy="294.8" r="1.35" fill="#ff0a0a"/>
<circle cx="115.1" cy="292.6" r="1.35" fill="#ff0a0a"/>
<circle cx="116" cy="296.8" r="1.35" fill="#ff0a0a"/>
<circle cx="118.5" cy="295.1" r="1.35" fill="#ff0a0a"/>
<circle cx="121" cy="296" r="1.35" fill="#ff0a0a"/>
<circle cx="121.8" cy="300.2" r="1.35" fill="#ff0a0a"/>
<circle cx="123" cy="297.2" r="1.35" fill="#ff0a0a"/>
<circle cx="124.3" cy="294.3" r="1.35" fill="#ff0a0a"/>
<circle cx="125.2" cy="297.6" r="1.35" fill="#ff0a0a"/>
<circle cx="126.8" cy="301.8" r="1.35" fill="#ff0a0a"/>
<circle cx="127.7" cy="306" r="1.35" fill="#ff0a0a"/>
<circle cx="128.5" cy="310.2" r="1.35" fill="#ff0a0a"/>
<circle cx="129.1" cy="305.7" r="1.35" fill="#ff0a0a"/>
<circle cx="129.6" cy="301.3" r="1.35" fill="#ff0a0a"/>
<circle cx="130.2" cy="296.8" r="1.35" fill="#ff0a0a"/>
<circle cx="132.7" cy="300.2" r="1.35" fill="#ff0a0a"/>
<circle cx="133.6" cy="302.7" r="1.35" fill="#ff0a0a"/>
<circle cx="134.4" cy="305.2" r="1.35" fill="#ff0a0a"/>
<circle cx="134.8" cy="307.7" r="1.35" fill="#ff0a0a"/>
<circle cx="135.2" cy="310.2" r="1.35" fill="#ff0a0a"/>
<circle cx="135.2" cy="312.7" r="1.35" fill="#ff0a0a"/>
<circle cx="135.2" cy="315.2" r="1.35" fill="#ff0a0a"/>
<circle cx="135.2" cy="319.4" r="1.35" fill="#ff0a0a"/>
<circle cx="135.2" cy="321.9" r="1.35" fill="#ff0a0a"/>
<circle cx="135.2" cy="324.4" r="1.35" fill="#ff0a0a"/>
<circle cx="135.2" cy="328.6" r="1.35" fill="#ff0a0a"/>
<circle cx="135.5" cy="333" r="1.35" fill="#ff0a0a"/>
<circle cx="136" cy="337" r="1.35" fill="#ff0a0a"/>
<circle cx="136.2" cy="332.9" r="1.35" fill="#ff0a0a"/>
<circle cx="136.4" cy="328.8" r="1.35" fill="#ff0a0a"/>
<circle cx="136.6" cy="324.7" r="1.35" fill="#ff0a0a"/>
<circle cx="136.8" cy="320.6" r="1.35" fill="#ff0a0a"/>
<circle cx="136.9" cy="316.6" r="1.35" fill="#ff0a0a"/>
<circle cx="137.1" cy="312.5" r="1.35" fill="#ff0a0a"/>
<circle cx="137.3" cy="308.4" r="1.35" fill="#ff0a0a"/>
<circle cx="137.5" cy="304.3" r="1.35" fill="#ff0a0a"/>
<circle cx="137.7" cy="300.2" r="1.35" fill="#ff0a0a"/>
<circle cx="138.1" cy="302.7" r="1.35" fill="#ff0a0a"/>
<circle cx="138.6" cy="305.2" r="1.35" fill="#ff0a0a"/>
<circle cx="140.2" cy="308.5" r="1.35" fill="#ff0a0a"/>
<circle cx="141.7" cy="306.8" r="1.35" fill="#ff0a0a"/>
<circle cx="142.5" cy="310.2" r="1.35" fill="#ff0a0a"/>
<circle cx="142.5" cy="312.7" r="1.35" fill="#ff0a0a"/>
<circle cx="142.5" cy="315.2" r="1.35" fill="#ff0a0a"/>
<circle cx="142.5" cy="317.7" r="1.35" fill="#ff0a0a"/>
<circle cx="142.5" cy="320.2" r="1.35" fill="#ff0a0a"/>
<circle cx="142.5" cy="324.4" r="1.35" fill="#ff0a0a"/>
<circle cx="143.2" cy="319.9" r="1.35" fill="#ff0a0a"/>
<circle cx="143.9" cy="315.4" r="1.35" fill="#ff0a0a"/>
<circle cx="144.5" cy="310.8" r="1.35" fill="#ff0a0a"/>
<circle cx="145.2" cy="306.3" r="1.35" fill="#ff0a0a"/>
<circle cx="145.9" cy="301.8" r="1.35" fill="#ff0a0a"/>
<circle cx="146.7" cy="305.1" r="1.35" fill="#ff0a0a"/>
<circle cx="146.7" cy="309.3" r="1.35" fill="#ff0a0a"/>
<circle cx="147.5" cy="313.5" r="1.35" fill="#ff0a0a"/>
<circle cx="147.9" cy="316" r="1.35" fill="#ff0a0a"/>
<circle cx="148.4" cy="318.5" r="1.35" fill="#ff0a0a"/>
<circle cx="149.2" cy="316" r="1.35" fill="#ff0a0a"/>
<circle cx="150" cy="313.5" r="1.35" fill="#ff0a0a"/>
<circle cx="152.6" cy="315.2" r="1.35" fill="#ff0a0a"/>
<circle cx="155.1" cy="316" r="1.35" fill="#ff0a0a"/>
<circle cx="156.8" cy="319.4" r="1.35" fill="#ff0a0a"/>
<circle cx="157.6" cy="315.2" r="1.35" fill="#ff0a0a"/>
<circle cx="158.4" cy="311" r="1.35" fill="#ff0a0a"/>
<circle cx="159.3" cy="306.8" r="1.35" fill="#ff0a0a"/>
<circle cx="160.1" cy="302.6" r="1.35" fill="#ff0a0a"/>
<circle cx="160.7" cy="305.7" r="1.35" fill="#ff0a0a"/>
<circle cx="161.2" cy="308.7" r="1.35" fill="#ff0a0a"/>
<circle cx="161.8" cy="311.8" r="1.35" fill="#ff0a0a"/>
<circle cx="162.6" cy="316" r="1.35" fill="#ff0a0a"/>
<circle cx="163.5" cy="319.4" r="1.35" fill="#ff0a0a"/>
<circle cx="163.9" cy="315" r="1.35" fill="#ff0a0a"/>
<circle cx="164.3" cy="310.6" r="1.35" fill="#ff0a0a"/>
<circle cx="164.7" cy="306.2" r="1.35" fill="#ff0a0a"/>
<circle cx="165.1" cy="301.8" r="1.35" fill="#ff0a0a"/>
<circle cx="165.1" cy="304.3" r="1.35" fill="#ff0a0a"/>
<circle cx="165.1" cy="306.8" r="1.35" fill="#ff0a0a"/>
<circle cx="166.8" cy="311" r="1.35" fill="#ff0a0a"/>
<circle cx="167.2" cy="308.1" r="1.35" fill="#ff0a0a"/>
<circle cx="167.6" cy="305.1" r="1.35" fill="#ff0a0a"/>
<circle cx="168.9" cy="303.1" r="1.35" fill="#ff0a0a"/>
<circle cx="170.2" cy="301" r="1.35" fill="#ff0a0a"/>
<circle cx="171.4" cy="303.1" r="1.35" fill="#ff0a0a"/>
<circle cx="172.7" cy="305.1" r="1.35" fill="#ff0a0a"/>
<circle cx="174.3" cy="302.6" r="1.35" fill="#ff0a0a"/>
<circle cx="176" cy="301" r="1.35" fill="#ff0a0a"/>
<circle cx="177.7" cy="299.3" r="1.35" fill="#ff0a0a"/>
<circle cx="180.2" cy="296.8" r="1.35" fill="#ff0a0a"/>
<circle cx="181" cy="294.2" r="1.35" fill="#ff0a0a"/>
<circle cx="182.3" cy="296.8" r="1.35" fill="#ff0a0a"/>
<circle cx="183.6" cy="299.3" r="1.35" fill="#ff0a0a"/>
<circle cx="186.1" cy="296.8" r="1.35" fill="#ff0a0a"/>
<circle cx="186.9" cy="293.4" r="1.35" fill="#ff0a0a"/>
<circle cx="190.3" cy="295.1" r="1.35" fill="#ff0a0a"/>
<circle cx="191.9" cy="297.6" r="1.35" fill="#ff0a0a"/>
<circle cx="194.4" cy="296" r="1.35" fill="#ff0a0a"/>
<circle cx="197" cy="294.2" r="1.35" fill="#ff0a0a"/>
<circle cx="200" cy="293.4" r="1.35" fill="#ff0a0a"/>
<circle cx="201.7" cy="292.5" r="1.35" fill="#ff0a0a"/>
<circle cx="204.2" cy="291.4" r="1.35" fill="#ff0a0a"/>
<circle cx="205.4" cy="293.4" r="1.35" fill="#ff0a0a"/>
<circle cx="206.7" cy="295.4" r="1.35" fill="#ff0a0a"/>
<circle cx="210" cy="293.4" r="1.35" fill="#ff0a0a"/>
<circle cx="213.4" cy="294.2" r="1.35" fill="#ff0a0a"/>
<circle cx="215" cy="294.2" r="1.35" fill="#ff0a0a"/>
<circle cx="217.6" cy="295.9" r="1.35" fill="#ff0a0a"/>
<circle cx="220.1" cy="296.7" r="1.35" fill="#ff0a0a"/>
<circle cx="221.8" cy="297" r="1.35" fill="#ff0a0a"/>
<circle cx="225.1" cy="299.7" r="1.35" fill="#ff0a0a"/>
<circle cx="227.6" cy="299.2" r="1.35" fill="#ff0a0a"/>
<circle cx="229.3" cy="299.7" r="1.35" fill="#ff0a0a"/>
<circle cx="231" cy="303.1" r="1.35" fill="#ff0a0a"/>
<circle cx="235.2" cy="303.4" r="1.35" fill="#ff0a0a"/>
<circle cx="237.7" cy="300.9" r="1.35" fill="#ff0a0a"/>
<circle cx="239.4" cy="304.3" r="1.35" fill="#ff0a0a"/>
<circle cx="240.2" cy="308.5" r="1.35" fill="#ff0a0a"/>
<circle cx="241.9" cy="305.9" r="1.35" fill="#ff0a0a"/>
<circle cx="242.8" cy="303.4" r="1.35" fill="#ff0a0a"/>
<circle cx="243.6" cy="300.9" r="1.35" fill="#ff0a0a"/>
<circle cx="245.2" cy="304.3" r="1.35" fill="#ff0a0a"/>
<circle cx="247.7" cy="307.8" r="1.35" fill="#ff0a0a"/>
<circle cx="250.3" cy="306.8" r="1.35" fill="#ff0a0a"/>
<circle cx="253.6" cy="305.1" r="1.35" fill="#ff0a0a"/>
<circle cx="255.3" cy="308.5" r="1.35" fill="#ff0a0a"/>
<circle cx="257" cy="311.8" r="1.35" fill="#ff0a0a"/>
<circle cx="256.8" cy="314.3" r="1.35" fill="#ff0a0a"/>
<circle cx="256.6" cy="316.8" r="1.35" fill="#ff0a0a"/>
<circle cx="256.1" cy="321" r="1.35" fill="#ff0a0a"/>
<circle cx="257" cy="317.6" r="1.35" fill="#ff0a0a"/>
<circle cx="257.8" cy="314.3" r="1.35" fill="#ff0a0a"/>
<circle cx="258.6" cy="311" r="1.35" fill="#ff0a0a"/>
<circle cx="259.5" cy="307.6" r="1.35" fill="#ff0a0a"/>
<circle cx="262" cy="310.9" r="1.35" fill="#ff0a0a"/>
<circle cx="263.7" cy="315.1" r="1.35" fill="#ff0a0a"/>
<circle cx="264.6" cy="319.3" r="1.35" fill="#ff0a0a"/>
<circle cx="265" cy="323.8" r="1.35" fill="#ff0a0a"/>
<circle cx="265.1" cy="319.2" r="1.35" fill="#ff0a0a"/>
<circle cx="265.3" cy="314.7" r="1.35" fill="#ff0a0a"/>
<circle cx="265.4" cy="310.1" r="1.35" fill="#ff0a0a"/>
<circle cx="267.9" cy="310.4" r="1.35" fill="#ff0a0a"/>
<circle cx="268.8" cy="312.6" r="1.35" fill="#ff0a0a"/>
<circle cx="269.6" cy="314.8" r="1.35" fill="#ff0a0a"/>
<circle cx="272.1" cy="318.5" r="1.35" fill="#ff0a0a"/>
<circle cx="273.8" cy="315.1" r="1.35" fill="#ff0a0a"/>
<circle cx="275.5" cy="311.8" r="1.35" fill="#ff0a0a"/>
<circle cx="277.1" cy="315.9" r="1.35" fill="#ff0a0a"/>
<circle cx="278.8" cy="320.1" r="1.35" fill="#ff0a0a"/>
<circle cx="279.2" cy="322.5" r="1.35" fill="#ff0a0a"/>
<circle cx="279.6" cy="324.8" r="1.35" fill="#ff0a0a"/>
<circle cx="281.3" cy="322.6" r="1.35" fill="#ff0a0a"/>
<circle cx="281.6" cy="318.4" r="1.35" fill="#ff0a0a"/>
<circle cx="281.9" cy="314.3" r="1.35" fill="#ff0a0a"/>
<circle cx="282.2" cy="310.1" r="1.35" fill="#ff0a0a"/>
<circle cx="283" cy="314.3" r="1.35" fill="#ff0a0a"/>
<circle cx="283.4" cy="316.8" r="1.35" fill="#ff0a0a"/>
<circle cx="283.8" cy="319.3" r="1.35" fill="#ff0a0a"/>
<circle cx="286.3" cy="321" r="1.35" fill="#ff0a0a"/>
<circle cx="287.2" cy="316.8" r="1.35" fill="#ff0a0a"/>
<circle cx="289.7" cy="313.4" r="1.35" fill="#ff0a0a"/>
<circle cx="292.2" cy="313.1" r="1.35" fill="#ff0a0a"/>
<circle cx="294.7" cy="315.9" r="1.35" fill="#ff0a0a"/>
<circle cx="295.9" cy="313.9" r="1.35" fill="#ff0a0a"/>
<circle cx="297.2" cy="311.8" r="1.35" fill="#ff0a0a"/>
<circle cx="298.9" cy="315.9" r="1.35" fill="#ff0a0a"/>
<circle cx="300.1" cy="313.4" r="1.35" fill="#ff0a0a"/>
<circle cx="301.4" cy="310.9" r="1.35" fill="#ff0a0a"/>
<circle cx="302.3" cy="314.8" r="1.35" fill="#ff0a0a"/>
<circle cx="304.8" cy="313.4" r="1.35" fill="#ff0a0a"/>
<circle cx="305.3" cy="317.6" r="1.35" fill="#ff0a0a"/>
<circle cx="306.3" cy="313.4" r="1.35" fill="#ff0a0a"/>
<circle cx="307.3" cy="309.2" r="1.35" fill="#ff0a0a"/>
<ellipse cx="178.7" cy="302.9" rx="8.3" ry="15.4" fill="none" stroke="#0c0c24" stroke-width="1.5"/>
<ellipse cx="250.6" cy="271.2" rx="8.3" ry="15.4" fill="none" stroke="#0c0c24" stroke-width="1.5"/>
<line x1="180" y1="288" x2="154" y2="288" stroke="#2a2a50" stroke-width="1.2"/>
<polygon points="148,288 156,284.3 156,291.5" fill="#000010"/>
<line x1="252" y1="286.8" x2="275" y2="286.8" stroke="#2a2a50" stroke-width="1.2"/>
<polygon points="282,286.8 274,283.2 274,290.4" fill="#000010"/>
<line x1="247" y1="375.8" x2="281" y2="375.8" stroke="#52b094" stroke-width="1.6"/>
<circle cx="248.6" cy="387.6" r="1.2" fill="#ff0a0a"/>
<circle cx="253.2" cy="387.6" r="1.2" fill="#ff0a0a"/>
<circle cx="257.8" cy="387.6" r="1.2" fill="#ff0a0a"/>
<circle cx="262.4" cy="387.6" r="1.2" fill="#ff0a0a"/>
<circle cx="267" cy="387.6" r="1.2" fill="#ff0a0a"/>
<circle cx="271.6" cy="387.6" r="1.2" fill="#ff0a0a"/>
<circle cx="276.2" cy="387.6" r="1.2" fill="#ff0a0a"/>
<circle cx="280.8" cy="387.6" r="1.2" fill="#ff0a0a"/>
<line x1="249.2" y1="398" x2="256.1" y2="398" stroke="#0c1eaa" stroke-width="2.4"/>
<line x1="258.1" y1="398" x2="265.3" y2="398" stroke="#0c1eaa" stroke-width="2.4"/>
<line x1="267.3" y1="398" x2="274.1" y2="398" stroke="#0c1eaa" stroke-width="2.4"/>
<line x1="276.6" y1="398" x2="283" y2="398" stroke="#0c1eaa" stroke-width="2.4"/>
<text x="37.3" y="261.2" text-anchor="end" font-size="13.5" font-family="Liberation Sans, sans-serif" fill="#000">0</text>
<text x="37.3" y="295.2" text-anchor="end" font-size="13.5" font-family="Liberation Sans, sans-serif" fill="#000">-20</text>
<text x="37.3" y="332.5" text-anchor="end" font-size="13.5" font-family="Liberation Sans, sans-serif" fill="#000">-40</text>
<text x="37.3" y="370.1" text-anchor="end" font-size="13.5" font-family="Liberation Sans, sans-serif" fill="#000">-60</text>
<text x="37.3" y="407.6" text-anchor="end" font-size="13.5" font-family="Liberation Sans, sans-serif" fill="#000">-80</text>
<text x="314.2" y="261.8" font-family="Liberation Sans, sans-serif" font-size="13.5" fill="#000">0</text>
<text x="313.2" y="297.8" font-family="Liberation Sans, sans-serif" font-size="13.5" fill="#000">-0.2</text>
<text x="313.2" y="333.8" font-family="Liberation Sans, sans-serif" font-size="13.5" fill="#000">-0.4</text>
<text x="313.2" y="371.7" font-family="Liberation Sans, sans-serif" font-size="13.5" fill="#000">-0.6</text>
<text x="313.2" y="408.2" font-family="Liberation Sans, sans-serif" font-size="13.5" fill="#000">-0.8</text>
<text x="41.8" y="435" text-anchor="middle" font-family="Liberation Sans, sans-serif" font-size="13.5" fill="#000">0</text>
<text x="88" y="435" text-anchor="middle" font-family="Liberation Sans, sans-serif" font-size="13.5" fill="#000">0.5</text>
<text x="130.8" y="435" text-anchor="middle" font-family="Liberation Sans, sans-serif" font-size="13.5" fill="#000">1</text>
<text x="178" y="435" text-anchor="middle" font-family="Liberation Sans, sans-serif" font-size="13.5" fill="#000">1.5</text>
<text x="220.7" y="435" text-anchor="middle" font-family="Liberation Sans, sans-serif" font-size="13.5" fill="#000">2</text>
<text x="267.2" y="435" text-anchor="middle" font-family="Liberation Sans, sans-serif" font-size="13.5" fill="#000">2.5</text>
<text x="311.2" y="435" text-anchor="middle" font-family="Liberation Sans, sans-serif" font-size="13.5" fill="#000">3</text>
<text x="172" y="451" text-anchor="middle" font-family="Liberation Sans, sans-serif" font-size="13" fill="#000">Frequency (GHz)</text>
<text transform="translate(10.8,333) rotate(-90)" text-anchor="middle" font-family="Liberation Sans, sans-serif" font-size="13.8" textLength="165" lengthAdjust="spacingAndGlyphs" fill="#000">Return loos &amp; Isolation (dB)</text>
<text transform="translate(353.6,328.4) rotate(-90)" text-anchor="middle" font-family="Liberation Sans, sans-serif" font-size="13.3" fill="#000">Insertion loss (dB)</text>
<text x="240.5" y="378.4" text-anchor="end" font-family="Liberation Sans, sans-serif" font-size="13.3" fill="#12123a">Isolation</text>
<text x="240.5" y="390" text-anchor="end" font-family="Liberation Sans, sans-serif" font-size="13.3" fill="#12123a">Return loss</text>
<text x="240.5" y="402" text-anchor="end" font-family="Liberation Sans, sans-serif" font-size="13.3" fill="#12123a">Insertion loss</text>
<text x="4" y="249.8" font-family="Liberation Sans, sans-serif" font-size="20" font-weight="bold" fill="#000">b</text>
</svg>
</body></html>
